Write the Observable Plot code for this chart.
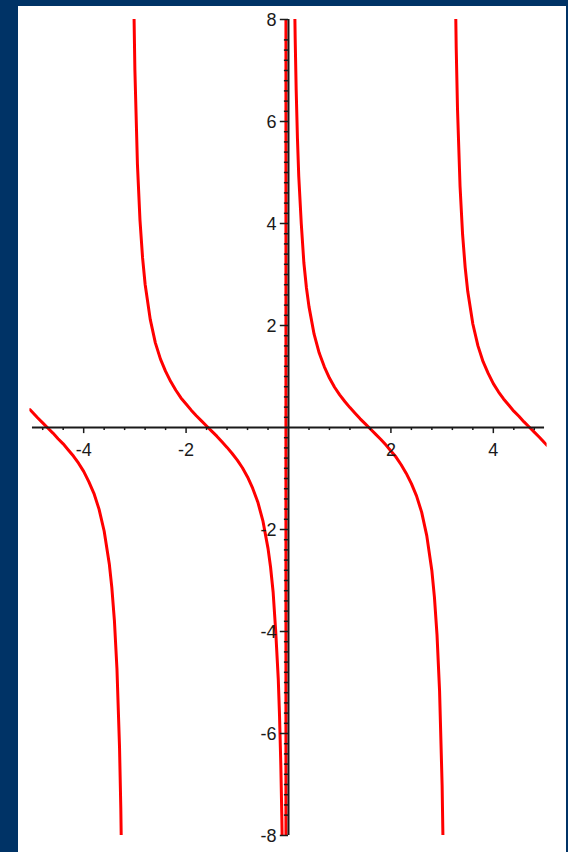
<!DOCTYPE html>
<html>
<head>
<meta charset="utf-8">
<script src="https://cdn.jsdelivr.net/npm/d3@7"></script>
<script src="https://cdn.jsdelivr.net/npm/@observablehq/plot@0.6"></script>
<style>
  html, body { margin: 0; padding: 0; }
  body { width: 568px; height: 852px; background: #003366; position: relative; overflow: hidden; }
  #panel { position: absolute; left: 18px; top: 6px; width: 548px; height: 846px; background: #ffffff; }
  #panel svg { display: block; }
</style>
</head>
<body>
<div id="panel"></div>
<script>
// y = cot(x) on [-5, 5], clipped to [-8, 8]; four branches between the poles.
const branchA_x = [-5.05, -5.0, -4.9, -4.8, -4.7, -4.6, -4.5, -4.4, -4.3, -4.2, -4.1, -4.0, -3.9, -3.8, -3.7, -3.6, -3.5, -3.45, -3.4, -3.35, -3.3, -3.275, -3.25];
const branchA_y = [0.35, 0.30, 0.19, 0.09, -0.01, -0.11, -0.22, -0.32, -0.44, -0.56, -0.70, -0.86, -1.06, -1.29, -1.60, -2.03, -2.67, -3.14, -3.78, -4.73, -6.26, -7.45, -9.19];

// middle-left branch; the plotter joins it to the next one with a vertical stroke near x = 0
const branchB_x = [-3.03, -3.0, -2.95, -2.9, -2.85, -2.8, -2.7, -2.6, -2.5, -2.4, -2.3, -2.2, -2.1, -2.0, -1.9, -1.8, -1.7, -1.6, -1.5, -1.4, -1.3, -1.2, -1.1, -1.0, -0.9, -0.8, -0.7, -0.6, -0.5, -0.4, -0.35, -0.3, -0.25, -0.2, -0.175, -0.15, -0.13, -0.12, -0.05, -0.05];
const branchB_y = [8.92, 7.02, 5.16, 4.06, 3.33, 2.81, 2.12, 1.66, 1.34, 1.10, 0.90, 0.73, 0.58, 0.46, 0.34, 0.23, 0.13, 0.03, -0.07, -0.17, -0.28, -0.39, -0.51, -0.64, -0.79, -0.97, -1.19, -1.46, -1.83, -2.37, -2.74, -3.23, -3.99, -4.93, -5.66, -6.62, -7.65, -8.29, -8.0, 8.0];

const branchC_x = [0.11, 0.13, 0.15, 0.175, 0.2, 0.25, 0.3, 0.35, 0.4, 0.5, 0.6, 0.7, 0.8, 0.9, 1.0, 1.1, 1.2, 1.3, 1.4, 1.5, 1.6, 1.7, 1.8, 1.9, 2.0, 2.1, 2.2, 2.3, 2.4, 2.5, 2.6, 2.7, 2.8, 2.85, 2.9, 2.95, 3.0, 3.03];
const branchC_y = [9.05, 7.65, 6.62, 5.66, 4.93, 3.99, 3.23, 2.74, 2.37, 1.83, 1.46, 1.19, 0.97, 0.79, 0.64, 0.51, 0.39, 0.28, 0.17, 0.07, -0.03, -0.13, -0.23, -0.34, -0.46, -0.58, -0.73, -0.90, -1.10, -1.34, -1.66, -2.12, -2.81, -3.33, -4.06, -5.16, -7.02, -8.92];

const branchD_x = [3.25, 3.275, 3.3, 3.35, 3.4, 3.45, 3.5, 3.6, 3.7, 3.8, 3.9, 4.0, 4.1, 4.2, 4.3, 4.4, 4.5, 4.6, 4.7, 4.8, 4.9, 5.0, 5.05];
const branchD_y = [9.19, 7.45, 6.26, 4.73, 3.78, 3.14, 2.67, 2.03, 1.60, 1.29, 1.06, 0.86, 0.70, 0.56, 0.44, 0.32, 0.22, 0.11, 0.01, -0.09, -0.19, -0.30, -0.35];

// axis labels and tick positions
const xTickLabels = [-4, -2, 2, 4];
const yTickLabels = [-8, -6, -4, -2, 2, 4, 6, 8];
const xMinorTicks = [-4.8, -4.4, -3.6, -3.2, -2.8, -2.4, -1.6, -1.2, -0.8, -0.4, 0.4, 0.8, 1.2, 1.6, 2.4, 2.8, 3.2, 3.6, 4.4, 4.8];
const yMinorTicks = d3.range(-38, 39).map(k => k / 5).filter(v => Math.abs(v * 5 % 10) > 0.01);

const branches = [
  ["A", branchA_x, branchA_y],
  ["B", branchB_x, branchB_y],
  ["C", branchC_x, branchC_y],
  ["D", branchD_x, branchD_y]
];
const curve = branches.flatMap(([name, xs, ys]) => xs.map((x, i) => ({branch: name, x, y: ys[i]})));

// tick lengths in data units
const X_MAJOR_LEN = 0.12, X_MINOR_LEN = 0.06;
const Y_MAJOR_LEN = 0.16, Y_MINOR_LEN = 0.08;

const AXIS = "#1a1a1a";
const FONT = "'Liberation Sans', Arial, sans-serif";

const chart = Plot.plot({
  width: 548,
  height: 846,
  marginLeft: 11.4,
  marginRight: 19.4,
  marginTop: 13,
  marginBottom: 17,
  style: {background: "transparent", fontFamily: FONT},
  x: {domain: [-5.05, 5.05], axis: null},
  y: {domain: [-8, 8], axis: null},
  marks: [
    Plot.line(curve, {x: "x", y: "y", z: "branch", stroke: "#ff0000", strokeWidth: 3, clip: true, strokeLinejoin: "round"}),
    // axes through the origin
    Plot.ruleY([0], {x1: -5, x2: 5, stroke: AXIS, strokeWidth: 2}),
    Plot.ruleX([0], {y1: -8, y2: 8, stroke: AXIS, strokeWidth: 2}),
    Plot.ruleX(xTickLabels, {x: d => d, y1: 0, y2: -X_MAJOR_LEN, stroke: AXIS, strokeWidth: 1.5}),
    Plot.ruleX(xMinorTicks, {x: d => d, y1: 0, y2: -X_MINOR_LEN, stroke: AXIS, strokeWidth: 1.5}),
    Plot.ruleY(yTickLabels, {y: d => d, x1: 0, x2: -Y_MAJOR_LEN, stroke: AXIS, strokeWidth: 1.5}),
    Plot.ruleY(yMinorTicks, {y: d => d, x1: 0, x2: -Y_MINOR_LEN, stroke: AXIS, strokeWidth: 1.5}),
    Plot.text(xTickLabels, {x: d => d, y: 0, text: d => String(d), dy: 23, fontSize: 18, fill: AXIS}),
    Plot.text(yTickLabels, {x: 0, y: d => d, text: d => String(d), dx: -12, dy: 1, textAnchor: "end", fontSize: 18, fill: AXIS})
  ]
});
document.getElementById("panel").appendChild(chart);
</script>
</body>
</html>
